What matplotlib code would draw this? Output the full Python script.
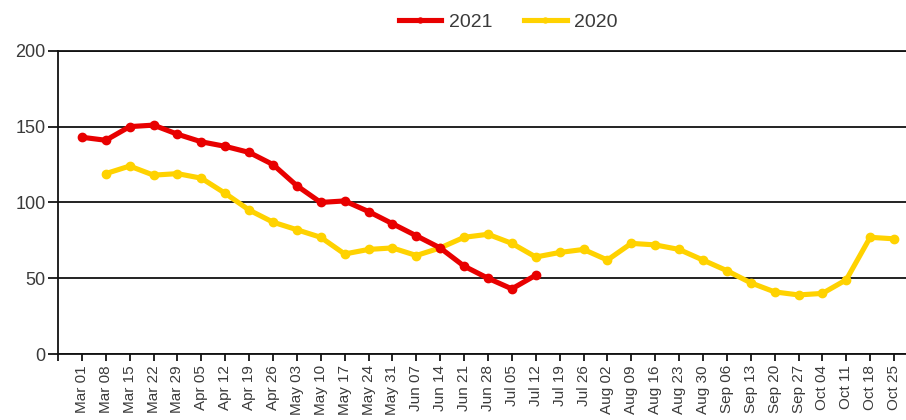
"""
weekly values, 2021 against 2020, as a line chart
"""

import numpy as np
import matplotlib.pyplot as plt

plt.rcParams['font.family'] = ['Liberation Sans', 'DejaVu Sans']

weeks = ['Mar 01', 'Mar 08', 'Mar 15', 'Mar 22', 'Mar 29',
         'Apr 05', 'Apr 12', 'Apr 19', 'Apr 26',
         'May 03', 'May 10', 'May 17', 'May 24', 'May 31',
         'Jun 07', 'Jun 14', 'Jun 21', 'Jun 28',
         'Jul 05', 'Jul 12', 'Jul 19', 'Jul 26',
         'Aug 02', 'Aug 09', 'Aug 16', 'Aug 23', 'Aug 30',
         'Sep 06', 'Sep 13', 'Sep 20', 'Sep 27',
         'Oct 04', 'Oct 11', 'Oct 18', 'Oct 25']

# 2021 runs from Mar 01 to Jul 12
values_2021 = [143, 141, 150, 151, 145, 140, 137, 133, 125, 111,
               100, 101, 94, 86, 78, 70, 58, 50, 43, 52]

# 2020 starts one week later (Mar 08)
values_2020 = [np.nan, 119, 124, 118, 119, 116, 106, 95, 87, 82, 77,
               66, 69, 70, 65, 70, 77, 79, 73, 64, 67,
               69, 62, 73, 72, 69, 62, 55, 47, 41, 39,
               40, 49, 77, 76]

y_ticks = [0, 50, 100, 150, 200]

RED = '#E80000'
YELLOW = '#FFD200'
TEXT = '#3a3a3a'

fig = plt.figure(figsize=(9.06, 4.2), dpi=100)
ax = fig.add_axes([0.064, 0.157, 0.936, 0.722])

x = np.arange(len(weeks))
l21, = ax.plot(x[:len(values_2021)], values_2021, color=RED, lw=3.7,
               marker='o', ms=6, zorder=4, label='2021')
l20, = ax.plot(x, values_2020, color=YELLOW, lw=3.7,
               marker='o', ms=6, zorder=3, label='2020')

ax.set_xlim(-1, len(weeks) - 0.5)
ax.set_ylim(0, 200)
ax.set_yticks(y_ticks)
ax.set_xticks(x)
ax.set_xticklabels(weeks, rotation=90, fontsize=11, color=TEXT)
ax.set_xticks([-1], minor=True)
ax.tick_params(axis='y', labelsize=13, labelcolor=TEXT, length=7, width=1.2, pad=2)
ax.tick_params(axis='x', which='both', length=5, width=1.2, pad=3)

ax.yaxis.grid(True, color='#111111', lw=1.3)
ax.set_axisbelow(True)
for side in ['left', 'bottom', 'top']:
    ax.spines[side].set_color('#111111')
    ax.spines[side].set_linewidth(1.3)
ax.spines['right'].set_visible(False)

fig.legend(handles=[l21, l20], loc='center', bbox_to_anchor=(0.561, 0.948),
           ncol=2, frameon=False, fontsize=14, numpoints=1, markerscale=0.6,
           handlelength=2.2, handletextpad=0.4, columnspacing=1.6,
           labelcolor=TEXT)

fig.savefig('out.png', dpi=100)
